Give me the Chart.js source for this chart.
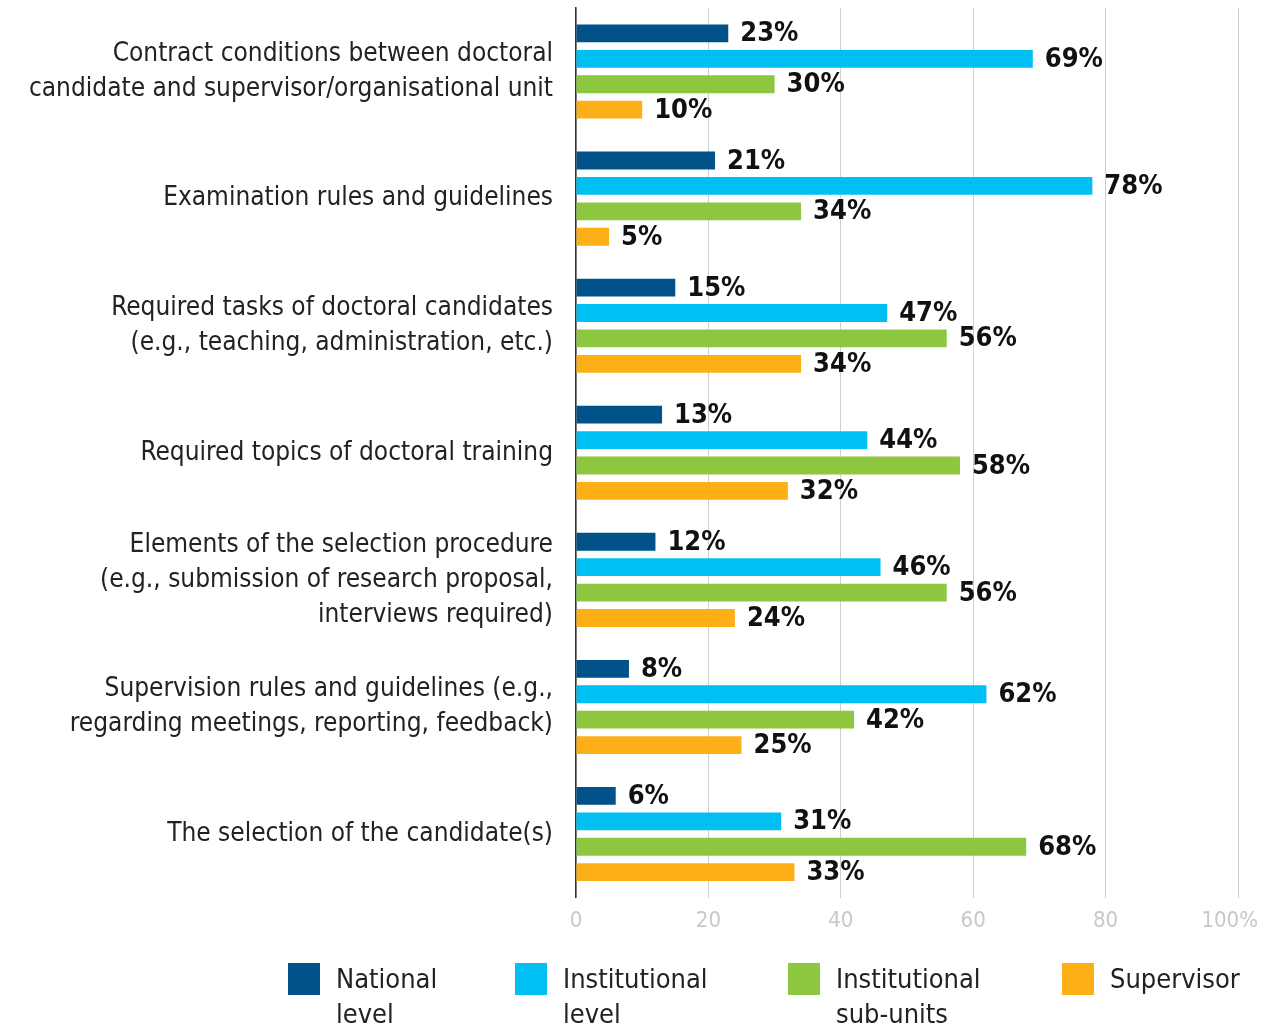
<!DOCTYPE html>
<html>
<head>
<meta charset="utf-8">
<script src="https://cdn.jsdelivr.net/npm/chart.js@4/dist/chart.umd.min.js"></script>
<style>
	body { margin: 0; background: #fff; }
	#wrap { position: relative; width: 1264px; height: 1027px; }
	.legend { position: absolute; top: 963px; left: 0; width: 1264px; height: 64px; font-family: "Liberation Sans Narrow", "DejaVu Sans Condensed", sans-serif; font-size: 27px; color: #222; }
	.legend .item { position: absolute; top: 0; display: flex; }
	.legend .box { width: 32px; height: 32px; margin-right: 16px; }
	.legend .txt { line-height: 35px; margin-top: -2px; }
</style>
</head>
<body>
<div id="wrap">
	<canvas id="chart" width="1264" height="1027"></canvas>
	<div class="legend" id="legend"></div>
</div>
<script>
const categories = [
	["Contract conditions between doctoral", "candidate and supervisor/organisational unit"],
	["Examination rules and guidelines"],
	["Required tasks of doctoral candidates", "(e.g., teaching, administration, etc.)"],
	["Required topics of doctoral training"],
	["Elements of the selection procedure", "(e.g., submission of research proposal,", "interviews required)"],
	["Supervision rules and guidelines (e.g.,", "regarding meetings, reporting, feedback)"],
	["The selection of the candidate(s)"],
];

const seriesNames = [["National", "level"], ["Institutional", "level"], ["Institutional", "sub-units"], ["Supervisor"]];
const seriesColors = ["#005289", "#00bff2", "#8dc63f", "#fcaf17"];

const nationalLevel = [23, 21, 15, 13, 12, 8, 6];
const institutionalLevel = [69, 78, 47, 44, 46, 62, 31];
const institutionalSubUnits = [30, 34, 56, 58, 56, 42, 68];
const supervisor = [10, 5, 34, 32, 24, 25, 33];

const xTicks = [0, 20, 40, 60, 80, 100];
const xTickLabels = ["0", "20", "40", "60", "80", "100%"];

const FONT = "'Liberation Sans Narrow', 'DejaVu Sans Condensed', sans-serif";

const valueLabels = {
	id: "valueLabels",
	afterDatasetsDraw(chart) {
		const ctx = chart.ctx;
		ctx.save();
		ctx.font = "bold 27px " + FONT;
		ctx.fillStyle = "#111";
		ctx.textBaseline = "middle";
		ctx.textAlign = "left";
		chart.data.datasets.forEach((ds, i) => {
			chart.getDatasetMeta(i).data.forEach((bar, j) => {
				ctx.fillText(ds.data[j] + "%", bar.x + 12, bar.y + 1);
			});
		});
		ctx.restore();
	},
};

// x tick labels drawn by hand so the last one ("100%") stays inside the canvas
const xLabels = {
	id: "xLabels",
	afterDraw(chart) {
		const ctx = chart.ctx;
		const x = chart.scales.x;
		ctx.save();
		ctx.font = "22px " + FONT;
		ctx.fillStyle = "#c8c8c8";
		ctx.textBaseline = "middle";
		xTicks.forEach((v, i) => {
			const px = x.getPixelForValue(v);
			const last = i === xTicks.length - 1;
			ctx.textAlign = last ? "right" : "center";
			ctx.fillText(xTickLabels[i], last ? chart.width - 6 : px, chart.chartArea.bottom + 24);
		});
		ctx.restore();
	},
};

const seriesData = [nationalLevel, institutionalLevel, institutionalSubUnits, supervisor];

new Chart(document.getElementById("chart"), {
	type: "bar",
	data: {
		labels: categories,
		datasets: seriesData.map((d, i) => ({
			label: seriesNames[i].join(" "),
			data: d,
			backgroundColor: seriesColors[i],
			categoryPercentage: 0.8,
			barPercentage: 0.7,
		})),
	},
	options: {
		indexAxis: "y",
		responsive: false,
		animation: false,
		layout: { padding: { top: 8, right: 26, left: 0, bottom: 81 } },
		plugins: {
			legend: { display: false },
			tooltip: { enabled: false },
		},
		scales: {
			x: {
				min: 0,
				max: 100,
				afterBuildTicks: (scale) => {
					scale.ticks = xTicks.map((v) => ({ value: v }));
				},
				afterFit: (scale) => {
					scale.paddingLeft = 0;
					scale.paddingRight = 0;
				},
				ticks: {
					color: "rgba(0,0,0,0)",
					padding: 11,
					font: { family: FONT, size: 22 },
				},
				grid: { color: "#cfcfcf", lineWidth: 1, drawTicks: false },
				border: { display: false },
			},
			y: {
				afterFit: (scale) => {
					scale.width = 576;
					scale.paddingTop = 0;
					scale.paddingBottom = 0;
				},
				ticks: {
					color: "#222",
					padding: 15,
					font: { family: FONT, size: 26, lineHeight: 1.35 },
				},
				grid: { display: false },
				border: { color: "#333", width: 1.5 },
			},
		},
	},
	plugins: [valueLabels, xLabels],
});

const legendPos = [288, 515, 788, 1062];
const legend = document.getElementById("legend");
seriesNames.forEach((name, i) => {
	const item = document.createElement("div");
	item.className = "item";
	item.style.left = legendPos[i] + "px";
	item.innerHTML = `<div class="box" style="background:${seriesColors[i]}"></div><div class="txt">${name.join("<br>")}</div>`;
	legend.appendChild(item);
});
</script>
</body>
</html>
